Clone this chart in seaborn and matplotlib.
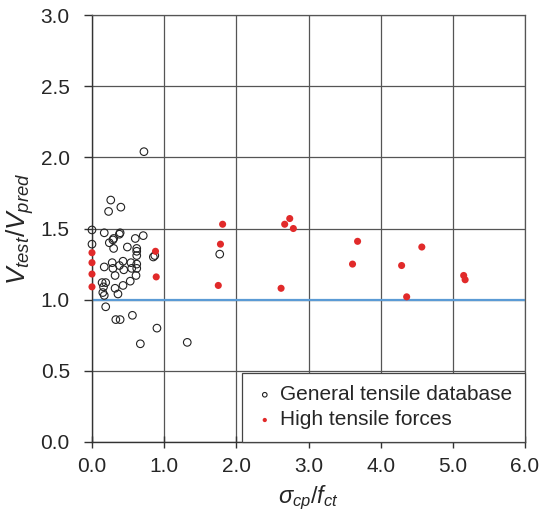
import matplotlib
matplotlib.use("Agg")
import matplotlib.pyplot as plt
import seaborn as sns
import pandas as pd

# General tensile database (open circles)
gen_x = [0.72, 0.26, 0.40, 0.23, 0.00, 0.17, 0.39, 0.38, 0.71, 0.30, 0.60, 0.24,
         0.00, 0.30, 0.49, 0.62, 0.62, 0.62, 0.85, 0.87, 0.28, 0.43, 0.54, 0.62,
         0.38, 0.17, 0.29, 0.44, 0.55, 0.62, 0.32, 0.61, 0.53, 0.43, 0.32, 0.36,
         0.14, 0.19, 0.16, 0.15, 0.17, 0.19, 0.33, 0.39, 0.56, 0.90, 0.67, 1.32,
         1.77, 0.29]
gen_y = [2.04, 1.70, 1.65, 1.62, 1.49, 1.47, 1.47, 1.46, 1.45, 1.43, 1.43, 1.40,
         1.39, 1.36, 1.37, 1.36, 1.34, 1.31, 1.30, 1.31, 1.26, 1.27, 1.26, 1.25,
         1.24, 1.23, 1.22, 1.21, 1.22, 1.22, 1.17, 1.17, 1.13, 1.10, 1.08, 1.04,
         1.12, 1.12, 1.09, 1.05, 1.03, 0.95, 0.86, 0.86, 0.89, 0.80, 0.69, 0.70,
         1.32, 1.42]

# High tensile forces (red dots)
high_x = [0.00, 0.00, 0.00, 0.00, 0.88, 0.89, 1.81, 1.78, 1.75, 2.74, 2.67, 2.79,
          2.62, 3.68, 3.61, 4.57, 4.29, 4.36, 5.15, 5.17]
high_y = [1.33, 1.26, 1.18, 1.09, 1.34, 1.16, 1.53, 1.39, 1.10, 1.57, 1.53, 1.50,
          1.08, 1.41, 1.25, 1.37, 1.24, 1.02, 1.17, 1.14]

ref_x = [0.0, 6.0]
ref_y = [1.0, 1.0]

labels = ["General tensile database", "High tensile forces"]
x_ticks = [0, 1, 2, 3, 4, 5, 6]
y_ticks = [0.0, 0.5, 1.0, 1.5, 2.0, 2.5, 3.0]

sns.set_style("white")
plt.rcParams['font.family'] = ['Liberation Sans', 'DejaVu Sans']
plt.rcParams['mathtext.fontset'] = 'custom'
plt.rcParams['mathtext.rm'] = 'Liberation Sans'
plt.rcParams['mathtext.it'] = 'Liberation Sans:italic'

fig = plt.figure(figsize=(5.43, 5.19), dpi=100)
ax = fig.add_axes([0.1694, 0.1484, 0.9669 - 0.1694, 0.971 - 0.1484])

df_gen = pd.DataFrame({"x": gen_x, "y": gen_y})
df_high = pd.DataFrame({"x": high_x, "y": high_y})

sns.lineplot(x=ref_x, y=ref_y, ax=ax, color="#5b9bd5", linewidth=1.6, zorder=2)
sns.scatterplot(data=df_gen, x="x", y="y", ax=ax, s=30, facecolor="none",
                edgecolor="#222222", linewidth=0.8, label=labels[0], zorder=3,
                clip_on=False)
sns.scatterplot(data=df_high, x="x", y="y", ax=ax, s=26, color="#e12a2a",
                edgecolor="none", label=labels[1], zorder=4, clip_on=False)

ax.set_xlim(0, 6)
ax.set_ylim(0, 3)
ax.set_xticks(x_ticks)
ax.set_xticklabels([f"{v:.1f}" for v in x_ticks])
ax.set_yticks(y_ticks)
ax.set_yticklabels([f"{v:.1f}" for v in y_ticks])
ax.grid(True, color="#555555", linewidth=0.9)
ax.set_axisbelow(True)
for side in ["top", "right"]:
    ax.spines[side].set_color("#555555")
    ax.spines[side].set_linewidth(0.9)
for side in ["left", "bottom"]:
    ax.spines[side].set_color("#333333")
    ax.spines[side].set_linewidth(1.0)
ax.tick_params(axis="y", direction="out", length=6, width=1, color="#333333",
               labelsize=15, pad=10, left=True)
ax.tick_params(axis="x", direction="inout", length=8, width=1, color="#333333",
               labelsize=15, pad=7, bottom=True)

ax.set_xlabel(r"$\sigma_{cp}/f_{ct}$", fontsize=17, labelpad=5)
ax.set_ylabel(r"$V_{test}/V_{pred}$", fontsize=19, labelpad=3)

leg = ax.legend(loc="lower right", borderaxespad=0, frameon=True, fancybox=False,
                fontsize=15, markerscale=0.6, handletextpad=0.25,
                borderpad=0.6, labelspacing=0.3, handlelength=1.0)
leg.get_frame().set_edgecolor("#444444")
leg.get_frame().set_linewidth(0.9)
leg.get_frame().set_alpha(1)

fig.savefig("out.png", dpi=100)
